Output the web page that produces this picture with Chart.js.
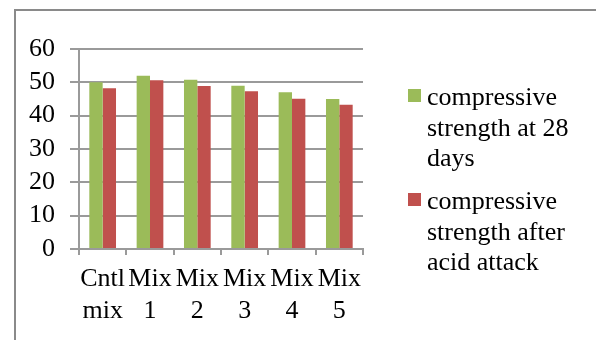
<!DOCTYPE html>
<html>
<head>
<meta charset="utf-8">
<script src="https://cdn.jsdelivr.net/npm/chart.js@4/dist/chart.umd.min.js"></script>
<style>
  html, body { margin: 0; padding: 0; background: #fff; }
  #wrap { position: relative; width: 596px; height: 340px; }
</style>
</head>
<body>
<div id="wrap"><canvas id="c" width="596" height="340"></canvas></div>
<script>
// Mix designs along the x axis (two-line labels)
const categories = [["Cntl", "mix"], ["Mix", "1"], ["Mix", "2"], ["Mix", "3"], ["Mix", "4"], ["Mix", "5"]];
// Compressive strength values (MPa)
const strength28Days = [50, 52, 50.8, 49, 47, 45];
const strengthAfterAcid = [48.2, 50.6, 48.9, 47.3, 45.1, 43.3];
// Series names, shown in the legend as wrapped lines
const seriesNames = [
  ["compressive", "strength at 28", "days"],
  ["compressive", "strength after", "acid attack"]
];
const yTicks = [0, 10, 20, 30, 40, 50, 60];

const GREEN = "#9BBB59";
const RED = "#C0504D";
const GRID = "#9a9a9a";
const FONT = "'Liberation Serif', 'Times New Roman', serif";

// Gray frame around the chart (open on the right and bottom)
const framePlugin = {
  id: "frame",
  beforeDraw(chart) {
    const ctx = chart.ctx;
    ctx.save();
    ctx.fillStyle = "#fff";
    ctx.fillRect(0, 0, chart.width, chart.height);
    ctx.strokeStyle = "#8a8a8a";
    ctx.lineWidth = 2;
    ctx.beginPath();
    ctx.moveTo(15, chart.height + 5);
    ctx.lineTo(15, 10);
    ctx.lineTo(chart.width + 5, 10);
    ctx.stroke();
    ctx.restore();
  }
};

// Legend drawn at the right with multi-line entries
const sideLegend = {
  id: "sideLegend",
  afterDraw(chart) {
    const ctx = chart.ctx;
    ctx.save();
    ctx.font = "26px " + FONT;
    ctx.fillStyle = "#000";
    ctx.textBaseline = "alphabetic";
    ctx.textAlign = "left";
    const starts = [105, 209];
    chart.data.datasets.forEach((ds, i) => {
      const y0 = starts[i];
      ctx.fillStyle = ds.backgroundColor;
      ctx.fillRect(408, y0 - 16, 13, 13);
      ctx.fillStyle = "#000";
      seriesNames[i].forEach((line, j) => {
        ctx.fillText(line, 427, y0 + j * 30.5);
      });
    });
    ctx.restore();
  }
};

new Chart(document.getElementById("c"), {
  type: "bar",
  data: {
    labels: categories,
    datasets: [
      { label: seriesNames[0].join(" "), data: strength28Days, backgroundColor: GREEN, borderWidth: 0 },
      { label: seriesNames[1].join(" "), data: strengthAfterAcid, backgroundColor: RED, borderWidth: 0 }
    ]
  },
  options: {
    responsive: false,
    animation: false,
    devicePixelRatio: 1,
    layout: { padding: { left: 0, top: 49, right: 233, bottom: 0 } },
    datasets: { bar: { categoryPercentage: 0.564, barPercentage: 1 } },
    plugins: { legend: { display: false }, tooltip: { enabled: false } },
    scales: {
      x: {
        grid: { offset: true, drawOnChartArea: false, drawTicks: true, tickLength: 6, color: GRID, lineWidth: 2 },
        border: { display: true, color: GRID, width: 2 },
        ticks: {
          autoSkip: false, maxRotation: 0, minRotation: 0,
          color: "#000", padding: 9,
          font: { family: FONT, size: 26, lineHeight: 1.2 }
        },
        afterFit(scale) { scale.height = 91; }
      },
      y: {
        min: 0, max: 60,
        afterBuildTicks(scale) { scale.ticks = yTicks.map(v => ({ value: v })); },
        grid: { color: GRID, tickLength: 9, drawTicks: true, lineWidth: 2 },
        border: { display: true, color: GRID, width: 2 },
        ticks: {
          autoSkip: false,
          color: "#000", padding: 15,
          font: { family: FONT, size: 26 }
        },
        afterFit(scale) { scale.width = 79; }
      }
    }
  },
  plugins: [framePlugin, sideLegend]
});
</script>
</body>
</html>
